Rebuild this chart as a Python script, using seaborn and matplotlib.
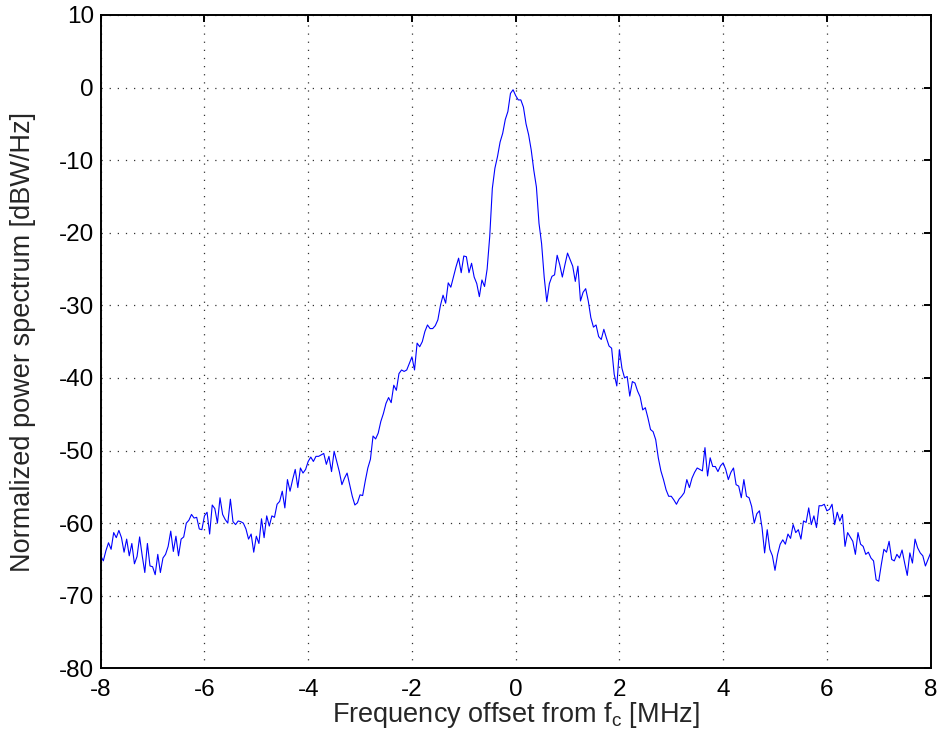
import numpy as np
import matplotlib
matplotlib.use("Agg")
import matplotlib.pyplot as plt
import seaborn as sns

# Power spectrum values [dBW/Hz], read at 0.05 MHz steps from -8 to 8 MHz
seg_a = [-64.5, -65.2, -63.8, -62.7, -63.6, -61.3, -62.0, -61.0, -62.0, -64.0,
         -62.2, -64.5, -62.8, -65.6, -64.6, -61.9, -64.5, -66.8, -62.8, -65.9,
         -66.0, -67.1, -64.3, -66.8, -64.8, -64.3, -63.2, -61.1, -63.9, -61.8,
         -64.5, -62.2, -61.9, -60.0, -59.6, -58.8, -59.3, -59.2, -60.8, -60.9,
         -59.0]
seg_b = [-58.5, -61.5, -57.5, -58.0, -60.0, -56.5, -58.8, -59.5, -60.0, -56.7,
         -59.8, -60.2, -59.7, -59.8, -60.0, -60.8, -62.2, -61.5, -64.0, -61.8,
         -62.8, -59.4, -62.0, -59.0, -60.4, -59.0, -59.2, -57.4, -57.0, -55.6,
         -57.9, -54.0, -55.6, -54.0, -52.6, -55.1, -52.4, -53.1, -52.6, -51.5]
seg_c = [-50.9, -51.5, -50.8, -50.8, -50.6, -50.4, -51.9, -50.8, -52.9, -50.1,
         -51.5, -52.9, -54.7, -53.8, -53.1, -54.7, -56.3, -57.5, -57.2, -56.1,
         -56.2, -54.2, -52.4, -51.2, -48.0, -48.4, -47.6, -46.0]
seg_d = [-44.9, -43.5, -42.7, -43.4, -41.0, -41.7, -39.4, -38.9, -39.1, -38.9,
         -38.0, -37.1, -38.9, -35.2, -35.7, -35.0, -33.6, -32.7, -33.2, -33.2,
         -32.8, -32.0, -30.0, -28.6, -29.7, -26.9, -27.5, -26.1, -24.7, -23.5,
         -25.5, -23.2, -23.3, -25.5, -24.2, -26.1, -27.0, -28.8, -26.5, -27.4,
         -25.0, -20.5]
seg_e = [-13.9, -11.1, -9.5, -7.5, -6.3, -4.4, -3.3, -0.8, -0.3, -1.1,
         -1.7, -1.7, -2.7, -5.0, -6.5, -8.6, -11.4, -13.7, -18.7, -21.5,
         -26.1, -29.5, -27.0, -26.0, -25.8, -23.1, -24.4, -26.1, -24.4]
seg_f = [-22.8, -23.7, -24.6, -26.7, -24.6, -29.4, -28.2, -27.7, -29.4, -31.7,
         -33.0, -32.7, -34.3, -34.7, -33.3, -34.5, -35.6, -35.9, -39.5, -41.1,
         -36.1, -38.7, -40.0, -39.8, -42.5, -40.5, -40.7, -41.8, -42.6, -44.4,
         -44.1, -45.5, -47.1, -47.4, -48.5, -51.0, -52.8, -54.0, -55.4, -56.3,
         -56.3, -56.8, -57.4, -56.7, -56.3, -55.8, -54.0, -55.1, -53.8, -53.0,
         -52.4, -52.6, -52.8, -49.6, -53.5, -51.0, -52.2, -52.2, -52.9]
seg_g = [-52.1, -51.7, -52.6, -54.0, -53.0, -52.4, -54.7, -54.9, -56.5, -54.0,
         -56.3, -56.5, -57.7, -60.0, -58.7, -58.3, -60.6, -64.1, -60.9, -63.6,
         -64.5, -66.5, -64.3, -62.9, -62.3, -62.9, -61.5]
seg_h = [-62.1, -60.2, -61.3, -60.9, -62.2, -59.7, -59.9, -57.9, -60.2, -59.0,
         -60.6, -57.6, -57.6, -57.4, -58.3, -58.1, -57.4, -60.2, -58.5, -59.7,
         -58.8, -63.2, -61.3, -61.9, -62.5, -64.3, -61.3, -62.9, -63.2, -64.3,
         -64.0, -64.8, -65.2, -67.8, -68.0, -65.7, -63.6, -64.0, -62.5, -65.0,
         -65.2, -64.3, -64.8, -63.7, -65.5, -67.2, -64.1, -65.5, -62.2, -63.4,
         -64.1, -64.5, -65.9, -65.0, -64.1]

power_db = seg_a + seg_b + seg_c + seg_d + seg_e + seg_f + seg_g + seg_h
freq_mhz = np.linspace(-8, 8, len(power_db))

x_ticks = [-8, -6, -4, -2, 0, 2, 4, 6, 8]
y_ticks = [-80, -70, -60, -50, -40, -30, -20, -10, 0, 10]

sns.set_style("white")
plt.rcParams["font.family"] = ["Liberation Sans", "DejaVu Sans"]
plt.rcParams["mathtext.fontset"] = "custom"
plt.rcParams["mathtext.rm"] = "Liberation Sans"
plt.rcParams["mathtext.it"] = "Liberation Sans"

fig = plt.figure(figsize=(9.44, 7.38), dpi=100)
ax = fig.add_axes([0.1067, 0.0944, 0.8791, 0.8853])

sns.lineplot(x=freq_mhz, y=power_db, ax=ax, color="#0000ff", linewidth=0.8,
             estimator=None, sort=False)

ax.set_xlim(-8, 8)
ax.set_ylim(-80, 10)
ax.set_xticks(x_ticks)
ax.set_yticks(y_ticks)
ax.set_xticklabels([str(t) for t in x_ticks])
ax.set_yticklabels([str(t) for t in y_ticks])

ax.grid(True, color="#333333", linestyle=(0, (1, 5.5)), linewidth=0.9)
ax.set_axisbelow(True)

for sp in ax.spines.values():
    sp.set_visible(True)
    sp.set_color("black")
    sp.set_linewidth(1.4)

ax.tick_params(axis="both", direction="in", length=5, width=1.4,
               top=True, right=True, labelsize=17.5, colors="black")
ax.tick_params(axis="x", pad=8)
ax.tick_params(axis="y", pad=5)

ax.set_xlabel(r"Frequency offset from f$_\mathregular{c}$ [MHz]", fontsize=19.5, labelpad=-1)
ax.set_ylabel("Normalized power spectrum [dBW/Hz]", fontsize=19.5, labelpad=16)

fig.savefig("out.png", dpi=100)
